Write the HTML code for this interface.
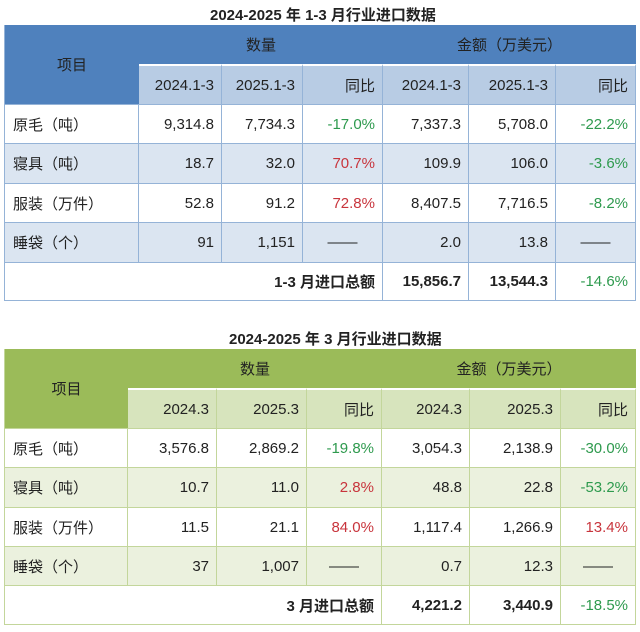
<!DOCTYPE html>
<html><head><meta charset="utf-8"><style>
body{margin:0;width:640px;height:632px;background:#fff;position:relative;overflow:hidden;font-family:"Liberation Sans","Noto Sans CJK SC",sans-serif;font-size:15px;color:#222}
.c{position:absolute;box-sizing:border-box;display:flex;align-items:center;justify-content:flex-end;padding-right:7px;white-space:nowrap}
.l{justify-content:flex-start;padding-left:8px;padding-right:0}
.m{justify-content:center;padding:0}
.b{font-weight:bold}
.g{color:#2e9a4e}.r{color:#c8343c}
.t{position:absolute;font-weight:bold;font-size:15px;white-space:nowrap}
.T .c{border-right:1px solid #95b3d7;border-bottom:1px solid #95b3d7}
.G .c{border-right:1px solid #c3d69b;border-bottom:1px solid #c3d69b}
</style></head><body>
<div class="t" style="left:210px;top:4px">2024-2025 年 1-3 月行业进口数据</div>
<div class="T">
<div class="c m" style="left:4px;top:25px;width:135px;height:80px;background:#4f81bd;border-left:1px solid #95b3d7;border-right:none">项目</div>
<div class="c m" style="left:139px;top:25px;width:244px;height:39px;background:#4f81bd;border:none">数量</div>
<div class="c m" style="left:383px;top:25px;width:253px;height:39px;background:#4f81bd;border:none">金额（万美元）</div>
<div class="c" style="left:139px;top:64px;width:83px;height:41px;background:#b8cce4;border-top:2px solid #fff">2024.1-3</div>
<div class="c" style="left:222px;top:64px;width:81px;height:41px;background:#b8cce4;border-top:2px solid #fff">2025.1-3</div>
<div class="c" style="left:303px;top:64px;width:80px;height:41px;background:#b8cce4;border-top:2px solid #fff">同比</div>
<div class="c" style="left:383px;top:64px;width:86px;height:41px;background:#b8cce4;border-top:2px solid #fff">2024.1-3</div>
<div class="c" style="left:469px;top:64px;width:87px;height:41px;background:#b8cce4;border-top:2px solid #fff">2025.1-3</div>
<div class="c" style="left:556px;top:64px;width:80px;height:41px;background:#b8cce4;border-top:2px solid #fff">同比</div>

<div class="c l" style="left:4px;top:105px;width:135px;height:39px;border-left:1px solid #95b3d7">原毛（吨）</div>
<div class="c" style="left:139px;top:105px;width:83px;height:39px">9,314.8</div>
<div class="c" style="left:222px;top:105px;width:81px;height:39px">7,734.3</div>
<div class="c g" style="left:303px;top:105px;width:80px;height:39px">-17.0%</div>
<div class="c" style="left:383px;top:105px;width:86px;height:39px">7,337.3</div>
<div class="c" style="left:469px;top:105px;width:87px;height:39px">5,708.0</div>
<div class="c g" style="left:556px;top:105px;width:80px;height:39px">-22.2%</div>

<div class="c l" style="left:4px;top:144px;width:135px;height:40px;border-left:1px solid #95b3d7;background:#dbe5f1">寝具（吨）</div>
<div class="c" style="left:139px;top:144px;width:83px;height:40px;background:#dbe5f1">18.7</div>
<div class="c" style="left:222px;top:144px;width:81px;height:40px;background:#dbe5f1">32.0</div>
<div class="c r" style="left:303px;top:144px;width:80px;height:40px;background:#dbe5f1">70.7%</div>
<div class="c" style="left:383px;top:144px;width:86px;height:40px;background:#dbe5f1">109.9</div>
<div class="c" style="left:469px;top:144px;width:87px;height:40px;background:#dbe5f1">106.0</div>
<div class="c g" style="left:556px;top:144px;width:80px;height:40px;background:#dbe5f1">-3.6%</div>

<div class="c l" style="left:4px;top:184px;width:135px;height:39px;border-left:1px solid #95b3d7">服装（万件）</div>
<div class="c" style="left:139px;top:184px;width:83px;height:39px">52.8</div>
<div class="c" style="left:222px;top:184px;width:81px;height:39px">91.2</div>
<div class="c r" style="left:303px;top:184px;width:80px;height:39px">72.8%</div>
<div class="c" style="left:383px;top:184px;width:86px;height:39px">8,407.5</div>
<div class="c" style="left:469px;top:184px;width:87px;height:39px">7,716.5</div>
<div class="c g" style="left:556px;top:184px;width:80px;height:39px">-8.2%</div>

<div class="c l" style="left:4px;top:223px;width:135px;height:40px;border-left:1px solid #95b3d7;background:#dbe5f1">睡袋（个）</div>
<div class="c" style="left:139px;top:223px;width:83px;height:40px;background:#dbe5f1">91</div>
<div class="c" style="left:222px;top:223px;width:81px;height:40px;background:#dbe5f1">1,151</div>
<div class="c m" style="left:303px;top:223px;width:80px;height:40px;background:#dbe5f1">——</div>
<div class="c" style="left:383px;top:223px;width:86px;height:40px;background:#dbe5f1">2.0</div>
<div class="c" style="left:469px;top:223px;width:87px;height:40px;background:#dbe5f1">13.8</div>
<div class="c m" style="left:556px;top:223px;width:80px;height:40px;background:#dbe5f1">——</div>

<div class="c b" style="left:4px;top:263px;width:379px;height:38px;border-left:1px solid #95b3d7">1-3 月进口总额</div>
<div class="c b" style="left:383px;top:263px;width:86px;height:38px">15,856.7</div>
<div class="c b" style="left:469px;top:263px;width:87px;height:38px">13,544.3</div>
<div class="c g" style="left:556px;top:263px;width:80px;height:38px">-14.6%</div>
</div>

<div class="t" style="left:229px;top:328px">2024-2025 年 3 月行业进口数据</div>
<div class="G">
<div class="c m" style="left:4px;top:349px;width:124px;height:80px;background:#9bbb59;border-left:1px solid #c3d69b;border-right:none">项目</div>
<div class="c m" style="left:128px;top:349px;width:254px;height:39px;background:#9bbb59;border:none">数量</div>
<div class="c m" style="left:382px;top:349px;width:254px;height:39px;background:#9bbb59;border:none">金额（万美元）</div>
<div class="c" style="left:128px;top:388px;width:89px;height:41px;background:#d7e4bd;border-top:2px solid #fff">2024.3</div>
<div class="c" style="left:217px;top:388px;width:90px;height:41px;background:#d7e4bd;border-top:2px solid #fff">2025.3</div>
<div class="c" style="left:307px;top:388px;width:75px;height:41px;background:#d7e4bd;border-top:2px solid #fff">同比</div>
<div class="c" style="left:382px;top:388px;width:88px;height:41px;background:#d7e4bd;border-top:2px solid #fff">2024.3</div>
<div class="c" style="left:470px;top:388px;width:91px;height:41px;background:#d7e4bd;border-top:2px solid #fff">2025.3</div>
<div class="c" style="left:561px;top:388px;width:75px;height:41px;background:#d7e4bd;border-top:2px solid #fff">同比</div>

<div class="c l" style="left:4px;top:429px;width:124px;height:39px;border-left:1px solid #c3d69b">原毛（吨）</div>
<div class="c" style="left:128px;top:429px;width:89px;height:39px">3,576.8</div>
<div class="c" style="left:217px;top:429px;width:90px;height:39px">2,869.2</div>
<div class="c g" style="left:307px;top:429px;width:75px;height:39px">-19.8%</div>
<div class="c" style="left:382px;top:429px;width:88px;height:39px">3,054.3</div>
<div class="c" style="left:470px;top:429px;width:91px;height:39px">2,138.9</div>
<div class="c g" style="left:561px;top:429px;width:75px;height:39px">-30.0%</div>

<div class="c l" style="left:4px;top:468px;width:124px;height:40px;border-left:1px solid #c3d69b;background:#ebf1de">寝具（吨）</div>
<div class="c" style="left:128px;top:468px;width:89px;height:40px;background:#ebf1de">10.7</div>
<div class="c" style="left:217px;top:468px;width:90px;height:40px;background:#ebf1de">11.0</div>
<div class="c r" style="left:307px;top:468px;width:75px;height:40px;background:#ebf1de">2.8%</div>
<div class="c" style="left:382px;top:468px;width:88px;height:40px;background:#ebf1de">48.8</div>
<div class="c" style="left:470px;top:468px;width:91px;height:40px;background:#ebf1de">22.8</div>
<div class="c g" style="left:561px;top:468px;width:75px;height:40px;background:#ebf1de">-53.2%</div>

<div class="c l" style="left:4px;top:508px;width:124px;height:39px;border-left:1px solid #c3d69b">服装（万件）</div>
<div class="c" style="left:128px;top:508px;width:89px;height:39px">11.5</div>
<div class="c" style="left:217px;top:508px;width:90px;height:39px">21.1</div>
<div class="c r" style="left:307px;top:508px;width:75px;height:39px">84.0%</div>
<div class="c" style="left:382px;top:508px;width:88px;height:39px">1,117.4</div>
<div class="c" style="left:470px;top:508px;width:91px;height:39px">1,266.9</div>
<div class="c r" style="left:561px;top:508px;width:75px;height:39px">13.4%</div>

<div class="c l" style="left:4px;top:547px;width:124px;height:39px;border-left:1px solid #c3d69b;background:#ebf1de">睡袋（个）</div>
<div class="c" style="left:128px;top:547px;width:89px;height:39px;background:#ebf1de">37</div>
<div class="c" style="left:217px;top:547px;width:90px;height:39px;background:#ebf1de">1,007</div>
<div class="c m" style="left:307px;top:547px;width:75px;height:39px;background:#ebf1de">——</div>
<div class="c" style="left:382px;top:547px;width:88px;height:39px;background:#ebf1de">0.7</div>
<div class="c" style="left:470px;top:547px;width:91px;height:39px;background:#ebf1de">12.3</div>
<div class="c m" style="left:561px;top:547px;width:75px;height:39px;background:#ebf1de">——</div>

<div class="c b" style="left:4px;top:586px;width:378px;height:39px;border-left:1px solid #c3d69b">3 月进口总额</div>
<div class="c b" style="left:382px;top:586px;width:88px;height:39px">4,221.2</div>
<div class="c b" style="left:470px;top:586px;width:91px;height:39px">3,440.9</div>
<div class="c g" style="left:561px;top:586px;width:75px;height:39px">-18.5%</div>
</div>
</body></html>
